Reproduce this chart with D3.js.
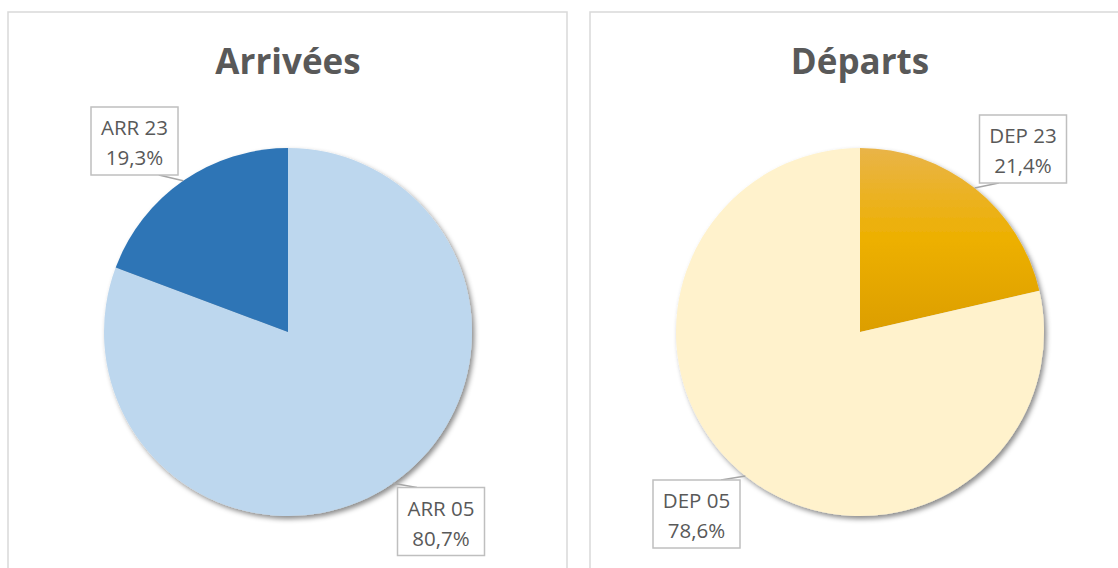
<!DOCTYPE html>
<html>
<head>
<meta charset="utf-8">
<script src="https://cdn.jsdelivr.net/npm/d3@7"></script>
<style>
  html, body { margin: 0; padding: 0; background: #fff; }
  svg { display: block; }
</style>
</head>
<body>
<svg id="chart" width="1118" height="568"></svg>
<script>
// ---- data ----
const titles = ["Arrivées", "Départs"];
const arrCategories = ["ARR 05", "ARR 23"];
const arrValues = [80.7, 19.3];
const depCategories = ["DEP 23", "DEP 05"];
const depValues = [21.4, 78.6];

// ---- layout ----
const W = 1118, H = 568;
const svg = d3.select("#chart");
const defs = svg.append("defs");

const shadow = defs.append("filter").attr("id", "shadow")
  .attr("x", "-20%").attr("y", "-20%").attr("width", "140%").attr("height", "140%");
shadow.append("feDropShadow").attr("dx", 2.5).attr("dy", 3).attr("stdDeviation", 2.5)
  .attr("flood-color", "#000").attr("flood-opacity", 0.45);

const panels = [
  { x0: 8, x1: 567, cx: 288, title: titles[0], cats: arrCategories, vals: arrValues,
    colors: ["#BDD7EE", "#2E75B6"],
    boxes: [[153, 189.5], [-153.5, -191]] },
  { x0: 590, x1: 1130, cx: 860, title: titles[1], cats: depCategories, vals: depValues,
    colors: ["url(#gradOrange)", "#FFF2CC"],
    boxes: [[163, -183], [-163.5, 182]] }
];
const cy = 332, R = 184;
const boxW = 87, boxH = 68;

const grad = defs.append("linearGradient").attr("id", "gradOrange")
  .attr("gradientUnits", "userSpaceOnUse")
  .attr("x1", 0).attr("x2", 0).attr("y1", -R).attr("y2", 0);
grad.append("stop").attr("offset", "0%").attr("stop-color", "#E9B448");
grad.append("stop").attr("offset", "50%").attr("stop-color", "#EDB000");
grad.append("stop").attr("offset", "100%").attr("stop-color", "#DC9E00");

const pie = d3.pie().sort(null).value(d => d);
const arc = d3.arc().innerRadius(0).outerRadius(R);
const edgeArc = d3.arc().innerRadius(R).outerRadius(R);
const fmt = v => d3.format(".1f")(v).replace(".", ",") + "%";

panels.forEach(p => {
  // panel border
  svg.append("rect")
    .attr("x", p.x0).attr("y", 12)
    .attr("width", p.x1 - p.x0).attr("height", H + 20)
    .attr("fill", "#fff").attr("stroke", "#D9D9D9").attr("stroke-width", 1.5);

  // title
  svg.append("text")
    .attr("x", p.cx).attr("y", 74)
    .attr("text-anchor", "middle")
    .attr("font-family", "'Open Sans', sans-serif")
    .attr("font-weight", "bold")
    .attr("font-size", 35)
    .attr("fill", "#595959")
    .text(p.title);

  const g = svg.append("g").attr("transform", `translate(${p.cx},${cy})`);
  const arcs = pie(p.vals);

  g.append("g").attr("filter", "url(#shadow)")
    .selectAll("path").data(arcs).join("path")
    .attr("d", arc)
    .attr("fill", (d, i) => p.colors[i]);

  // labels
  arcs.forEach((d, i) => {
    const [ex, ey] = edgeArc.centroid(d);
    const [bx, by] = p.boxes[i];
    const top = by < ey; // box above edge point
    const lx = bx + (ex - bx) * 0.5;
    const ly = top ? by + boxH / 2 : by - boxH / 2;
    g.append("line")
      .attr("x1", ex).attr("y1", ey).attr("x2", lx).attr("y2", ly)
      .attr("stroke", "#A6A6A6").attr("stroke-width", 1.5);
    g.append("rect")
      .attr("x", bx - boxW / 2).attr("y", by - boxH / 2)
      .attr("width", boxW).attr("height", boxH)
      .attr("fill", "#fff").attr("stroke", "#BFBFBF").attr("stroke-width", 1.5);
    const t = g.append("text")
      .attr("text-anchor", "middle")
      .attr("font-family", "'Open Sans', sans-serif")
      .attr("font-size", 20.5)
      .attr("fill", "#595959");
    t.append("tspan").attr("x", bx).attr("y", by - 6).text(p.cats[i]);
    t.append("tspan").attr("x", bx).attr("y", by + 24).text(fmt(p.vals[i]));
  });
});
</script>
</body>
</html>
